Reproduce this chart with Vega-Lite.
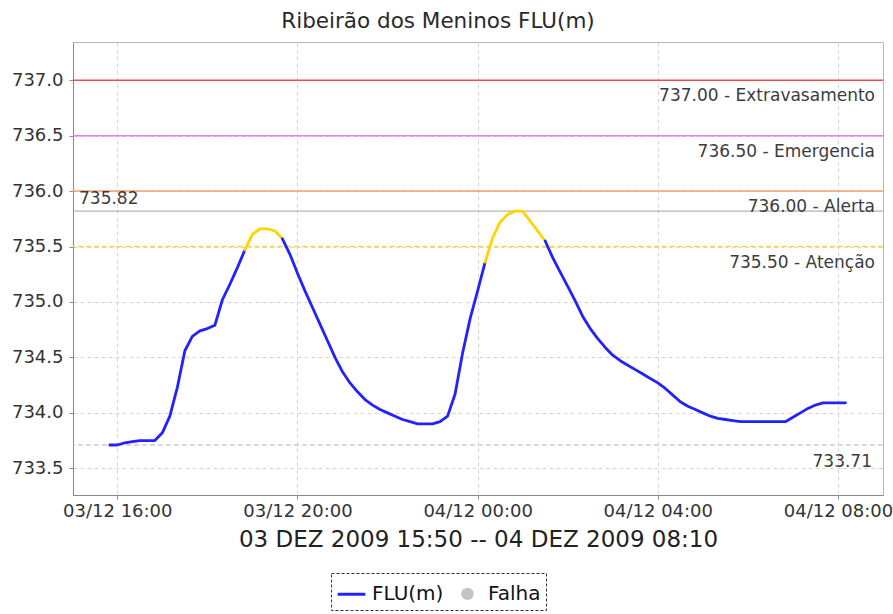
{
  "$schema": "https://vega.github.io/schema/vega-lite/v6.json",
  "autosize": {"type": "none"},
  "width": 810,
  "height": 453,
  "padding": {"left": 73, "top": 42, "right": 10, "bottom": 119},
  "background": "white",
  "title": {
    "text": "Ribeirão dos Meninos FLU(m)",
    "font": "DejaVu Sans",
    "fontSize": 21.5,
    "fontWeight": "normal",
    "color": "#2a2a2a",
    "anchor": "middle",
    "frame": "group",
    "dx": -40,
    "offset": 10
  },
  "datasets": {
    "serie": [
      {"hora": "2009-12-03T15:50:00", "flu": 733.71, "trecho": 1, "estado": "FLU(m)"},
      {"hora": "2009-12-03T16:00:00", "flu": 733.71, "trecho": 1, "estado": "FLU(m)"},
      {"hora": "2009-12-03T16:10:00", "flu": 733.73, "trecho": 1, "estado": "FLU(m)"},
      {"hora": "2009-12-03T16:20:00", "flu": 733.74, "trecho": 1, "estado": "FLU(m)"},
      {"hora": "2009-12-03T16:30:00", "flu": 733.75, "trecho": 1, "estado": "FLU(m)"},
      {"hora": "2009-12-03T16:40:00", "flu": 733.75, "trecho": 1, "estado": "FLU(m)"},
      {"hora": "2009-12-03T16:50:00", "flu": 733.75, "trecho": 1, "estado": "FLU(m)"},
      {"hora": "2009-12-03T17:00:00", "flu": 733.82, "trecho": 1, "estado": "FLU(m)"},
      {"hora": "2009-12-03T17:10:00", "flu": 733.97, "trecho": 1, "estado": "FLU(m)"},
      {"hora": "2009-12-03T17:20:00", "flu": 734.23, "trecho": 1, "estado": "FLU(m)"},
      {"hora": "2009-12-03T17:30:00", "flu": 734.56, "trecho": 1, "estado": "FLU(m)"},
      {"hora": "2009-12-03T17:40:00", "flu": 734.69, "trecho": 1, "estado": "FLU(m)"},
      {"hora": "2009-12-03T17:50:00", "flu": 734.74, "trecho": 1, "estado": "FLU(m)"},
      {"hora": "2009-12-03T18:00:00", "flu": 734.76, "trecho": 1, "estado": "FLU(m)"},
      {"hora": "2009-12-03T18:10:00", "flu": 734.79, "trecho": 1, "estado": "FLU(m)"},
      {"hora": "2009-12-03T18:20:00", "flu": 735.02, "trecho": 1, "estado": "FLU(m)"},
      {"hora": "2009-12-03T18:30:00", "flu": 735.16, "trecho": 1, "estado": "FLU(m)"},
      {"hora": "2009-12-03T18:40:00", "flu": 735.31, "trecho": 1, "estado": "FLU(m)"},
      {"hora": "2009-12-03T18:50:00", "flu": 735.47, "trecho": 1, "estado": "FLU(m)"},
      {"hora": "2009-12-03T18:50:00", "flu": 735.47, "trecho": 2, "estado": "Atenção"},
      {"hora": "2009-12-03T19:00:00", "flu": 735.61, "trecho": 2, "estado": "Atenção"},
      {"hora": "2009-12-03T19:10:00", "flu": 735.66, "trecho": 2, "estado": "Atenção"},
      {"hora": "2009-12-03T19:20:00", "flu": 735.66, "trecho": 2, "estado": "Atenção"},
      {"hora": "2009-12-03T19:30:00", "flu": 735.64, "trecho": 2, "estado": "Atenção"},
      {"hora": "2009-12-03T19:40:00", "flu": 735.57, "trecho": 2, "estado": "Atenção"},
      {"hora": "2009-12-03T19:40:00", "flu": 735.57, "trecho": 3, "estado": "FLU(m)"},
      {"hora": "2009-12-03T19:50:00", "flu": 735.43, "trecho": 3, "estado": "FLU(m)"},
      {"hora": "2009-12-03T20:00:00", "flu": 735.26, "trecho": 3, "estado": "FLU(m)"},
      {"hora": "2009-12-03T20:10:00", "flu": 735.10, "trecho": 3, "estado": "FLU(m)"},
      {"hora": "2009-12-03T20:20:00", "flu": 734.95, "trecho": 3, "estado": "FLU(m)"},
      {"hora": "2009-12-03T20:30:00", "flu": 734.80, "trecho": 3, "estado": "FLU(m)"},
      {"hora": "2009-12-03T20:40:00", "flu": 734.65, "trecho": 3, "estado": "FLU(m)"},
      {"hora": "2009-12-03T20:50:00", "flu": 734.50, "trecho": 3, "estado": "FLU(m)"},
      {"hora": "2009-12-03T21:00:00", "flu": 734.37, "trecho": 3, "estado": "FLU(m)"},
      {"hora": "2009-12-03T21:10:00", "flu": 734.27, "trecho": 3, "estado": "FLU(m)"},
      {"hora": "2009-12-03T21:20:00", "flu": 734.19, "trecho": 3, "estado": "FLU(m)"},
      {"hora": "2009-12-03T21:30:00", "flu": 734.12, "trecho": 3, "estado": "FLU(m)"},
      {"hora": "2009-12-03T21:40:00", "flu": 734.07, "trecho": 3, "estado": "FLU(m)"},
      {"hora": "2009-12-03T21:50:00", "flu": 734.03, "trecho": 3, "estado": "FLU(m)"},
      {"hora": "2009-12-03T22:00:00", "flu": 734.00, "trecho": 3, "estado": "FLU(m)"},
      {"hora": "2009-12-03T22:10:00", "flu": 733.97, "trecho": 3, "estado": "FLU(m)"},
      {"hora": "2009-12-03T22:20:00", "flu": 733.94, "trecho": 3, "estado": "FLU(m)"},
      {"hora": "2009-12-03T22:30:00", "flu": 733.92, "trecho": 3, "estado": "FLU(m)"},
      {"hora": "2009-12-03T22:40:00", "flu": 733.90, "trecho": 3, "estado": "FLU(m)"},
      {"hora": "2009-12-03T22:50:00", "flu": 733.90, "trecho": 3, "estado": "FLU(m)"},
      {"hora": "2009-12-03T23:00:00", "flu": 733.90, "trecho": 3, "estado": "FLU(m)"},
      {"hora": "2009-12-03T23:10:00", "flu": 733.92, "trecho": 3, "estado": "FLU(m)"},
      {"hora": "2009-12-03T23:20:00", "flu": 733.97, "trecho": 3, "estado": "FLU(m)"},
      {"hora": "2009-12-03T23:30:00", "flu": 734.17, "trecho": 3, "estado": "FLU(m)"},
      {"hora": "2009-12-03T23:40:00", "flu": 734.54, "trecho": 3, "estado": "FLU(m)"},
      {"hora": "2009-12-03T23:50:00", "flu": 734.85, "trecho": 3, "estado": "FLU(m)"},
      {"hora": "2009-12-04T00:00:00", "flu": 735.10, "trecho": 3, "estado": "FLU(m)"},
      {"hora": "2009-12-04T00:10:00", "flu": 735.36, "trecho": 3, "estado": "FLU(m)"},
      {"hora": "2009-12-04T00:10:00", "flu": 735.36, "trecho": 4, "estado": "Atenção"},
      {"hora": "2009-12-04T00:20:00", "flu": 735.58, "trecho": 4, "estado": "Atenção"},
      {"hora": "2009-12-04T00:30:00", "flu": 735.72, "trecho": 4, "estado": "Atenção"},
      {"hora": "2009-12-04T00:40:00", "flu": 735.79, "trecho": 4, "estado": "Atenção"},
      {"hora": "2009-12-04T00:50:00", "flu": 735.82, "trecho": 4, "estado": "Atenção"},
      {"hora": "2009-12-04T01:00:00", "flu": 735.82, "trecho": 4, "estado": "Atenção"},
      {"hora": "2009-12-04T01:10:00", "flu": 735.73, "trecho": 4, "estado": "Atenção"},
      {"hora": "2009-12-04T01:20:00", "flu": 735.64, "trecho": 4, "estado": "Atenção"},
      {"hora": "2009-12-04T01:30:00", "flu": 735.55, "trecho": 4, "estado": "Atenção"},
      {"hora": "2009-12-04T01:30:00", "flu": 735.55, "trecho": 5, "estado": "FLU(m)"},
      {"hora": "2009-12-04T01:40:00", "flu": 735.40, "trecho": 5, "estado": "FLU(m)"},
      {"hora": "2009-12-04T01:50:00", "flu": 735.27, "trecho": 5, "estado": "FLU(m)"},
      {"hora": "2009-12-04T02:00:00", "flu": 735.14, "trecho": 5, "estado": "FLU(m)"},
      {"hora": "2009-12-04T02:10:00", "flu": 735.01, "trecho": 5, "estado": "FLU(m)"},
      {"hora": "2009-12-04T02:20:00", "flu": 734.87, "trecho": 5, "estado": "FLU(m)"},
      {"hora": "2009-12-04T02:30:00", "flu": 734.76, "trecho": 5, "estado": "FLU(m)"},
      {"hora": "2009-12-04T02:40:00", "flu": 734.67, "trecho": 5, "estado": "FLU(m)"},
      {"hora": "2009-12-04T02:50:00", "flu": 734.59, "trecho": 5, "estado": "FLU(m)"},
      {"hora": "2009-12-04T03:00:00", "flu": 734.52, "trecho": 5, "estado": "FLU(m)"},
      {"hora": "2009-12-04T03:10:00", "flu": 734.47, "trecho": 5, "estado": "FLU(m)"},
      {"hora": "2009-12-04T03:20:00", "flu": 734.43, "trecho": 5, "estado": "FLU(m)"},
      {"hora": "2009-12-04T03:30:00", "flu": 734.39, "trecho": 5, "estado": "FLU(m)"},
      {"hora": "2009-12-04T03:40:00", "flu": 734.35, "trecho": 5, "estado": "FLU(m)"},
      {"hora": "2009-12-04T03:50:00", "flu": 734.31, "trecho": 5, "estado": "FLU(m)"},
      {"hora": "2009-12-04T04:00:00", "flu": 734.27, "trecho": 5, "estado": "FLU(m)"},
      {"hora": "2009-12-04T04:10:00", "flu": 734.22, "trecho": 5, "estado": "FLU(m)"},
      {"hora": "2009-12-04T04:20:00", "flu": 734.16, "trecho": 5, "estado": "FLU(m)"},
      {"hora": "2009-12-04T04:30:00", "flu": 734.10, "trecho": 5, "estado": "FLU(m)"},
      {"hora": "2009-12-04T04:40:00", "flu": 734.06, "trecho": 5, "estado": "FLU(m)"},
      {"hora": "2009-12-04T04:50:00", "flu": 734.03, "trecho": 5, "estado": "FLU(m)"},
      {"hora": "2009-12-04T05:00:00", "flu": 734.00, "trecho": 5, "estado": "FLU(m)"},
      {"hora": "2009-12-04T05:10:00", "flu": 733.97, "trecho": 5, "estado": "FLU(m)"},
      {"hora": "2009-12-04T05:20:00", "flu": 733.95, "trecho": 5, "estado": "FLU(m)"},
      {"hora": "2009-12-04T05:30:00", "flu": 733.94, "trecho": 5, "estado": "FLU(m)"},
      {"hora": "2009-12-04T05:40:00", "flu": 733.93, "trecho": 5, "estado": "FLU(m)"},
      {"hora": "2009-12-04T05:50:00", "flu": 733.92, "trecho": 5, "estado": "FLU(m)"},
      {"hora": "2009-12-04T06:00:00", "flu": 733.92, "trecho": 5, "estado": "FLU(m)"},
      {"hora": "2009-12-04T06:10:00", "flu": 733.92, "trecho": 5, "estado": "FLU(m)"},
      {"hora": "2009-12-04T06:20:00", "flu": 733.92, "trecho": 5, "estado": "FLU(m)"},
      {"hora": "2009-12-04T06:30:00", "flu": 733.92, "trecho": 5, "estado": "FLU(m)"},
      {"hora": "2009-12-04T06:40:00", "flu": 733.92, "trecho": 5, "estado": "FLU(m)"},
      {"hora": "2009-12-04T06:50:00", "flu": 733.92, "trecho": 5, "estado": "FLU(m)"},
      {"hora": "2009-12-04T07:00:00", "flu": 733.96, "trecho": 5, "estado": "FLU(m)"},
      {"hora": "2009-12-04T07:10:00", "flu": 734.00, "trecho": 5, "estado": "FLU(m)"},
      {"hora": "2009-12-04T07:20:00", "flu": 734.04, "trecho": 5, "estado": "FLU(m)"},
      {"hora": "2009-12-04T07:30:00", "flu": 734.07, "trecho": 5, "estado": "FLU(m)"},
      {"hora": "2009-12-04T07:40:00", "flu": 734.09, "trecho": 5, "estado": "FLU(m)"},
      {"hora": "2009-12-04T07:50:00", "flu": 734.09, "trecho": 5, "estado": "FLU(m)"},
      {"hora": "2009-12-04T08:00:00", "flu": 734.09, "trecho": 5, "estado": "FLU(m)"},
      {"hora": "2009-12-04T08:10:00", "flu": 734.09, "trecho": 5, "estado": "FLU(m)"}
    ],
    "limites": [
      {"nivel": "Extravasamento", "valor": 737.0, "rotulo": "737.00 - Extravasamento"},
      {"nivel": "Emergencia", "valor": 736.5, "rotulo": "736.50 - Emergencia"},
      {"nivel": "Alerta", "valor": 736.0, "rotulo": "736.00 - Alerta"},
      {"nivel": "Atenção", "valor": 735.5, "rotulo": "735.50 - Atenção"}
    ],
    "extremos": [
      {"tipo": "max", "valor": 735.82, "rotulo": "735.82"},
      {"tipo": "min", "valor": 733.71, "rotulo": "733.71"}
    ]
  },
  "encoding": {
    "y": {
      "type": "quantitative",
      "scale": {"domain": [733.259, 737.345], "nice": false, "zero": false},
      "axis": {
        "title": null,
        "grid": true,
        "values": [733.5, 734.0, 734.5, 735.0, 735.5, 736.0, 736.5, 737.0],
        "format": ".1f",
        "labelPadding": 6
      }
    }
  },
  "layer": [
    {
      "data": {"name": "extremos"},
      "mark": {"type": "rule", "strokeWidth": 1},
      "encoding": {
        "y": {"field": "valor", "type": "quantitative"},
        "color": {
          "condition": {"test": "datum.tipo === 'max'", "value": "#a0a0a0"},
          "value": "#b4b4b4"
        },
        "strokeDash": {
          "condition": {"test": "datum.tipo === 'max'", "value": [1, 0]},
          "value": [5, 3]
        }
      }
    },
    {
      "data": {"name": "limites"},
      "mark": {"type": "rule", "strokeWidth": 1.5},
      "encoding": {
        "y": {"field": "valor", "type": "quantitative"},
        "color": {
          "condition": [
            {"test": "datum.nivel === 'Extravasamento'", "value": "#f24a4a"},
            {"test": "datum.nivel === 'Emergencia'", "value": "#f07af2"},
            {"test": "datum.nivel === 'Alerta'", "value": "#f0a070"}
          ],
          "value": "#f2d850"
        },
        "strokeDash": {
          "condition": {"test": "datum.nivel === 'Atenção'", "value": [5, 3]},
          "value": [1, 0]
        }
      }
    },
    {
      "data": {"name": "limites"},
      "mark": {"type": "text", "align": "right", "baseline": "alphabetic", "dx": -8, "dy": 21, "font": "DejaVu Sans", "fontSize": 17, "color": "#3c3c3c"},
      "encoding": {
        "x": {"datum": {"year": 2009, "month": 12, "date": 4, "hours": 9, "minutes": 0}, "type": "temporal"},
        "y": {"field": "valor", "type": "quantitative"},
        "text": {"field": "rotulo"}
      }
    },
    {
      "data": {"name": "extremos"},
      "transform": [{"filter": "datum.tipo === 'max'"}],
      "mark": {"type": "text", "align": "left", "baseline": "alphabetic", "dx": 6, "dy": -7, "font": "DejaVu Sans", "fontSize": 17, "color": "#3c3c3c"},
      "encoding": {
        "x": {"datum": {"year": 2009, "month": 12, "date": 3, "hours": 15, "minutes": 1}, "type": "temporal"},
        "y": {"field": "valor", "type": "quantitative"},
        "text": {"field": "rotulo"}
      }
    },
    {
      "data": {"name": "extremos"},
      "transform": [{"filter": "datum.tipo === 'min'"}],
      "mark": {"type": "text", "align": "right", "baseline": "alphabetic", "dx": -11, "dy": 22, "font": "DejaVu Sans", "fontSize": 17, "color": "#3c3c3c"},
      "encoding": {
        "x": {"datum": {"year": 2009, "month": 12, "date": 4, "hours": 9, "minutes": 0}, "type": "temporal"},
        "y": {"field": "valor", "type": "quantitative"},
        "text": {"field": "rotulo"}
      }
    },
    {
      "data": {"name": "serie"},
      "mark": {"type": "line", "strokeWidth": 2.8, "strokeCap": "round", "strokeJoin": "round"},
      "encoding": {
        "x": {
          "field": "hora",
          "type": "temporal",
          "scale": {"domain": [
            {"year": 2009, "month": 12, "date": 3, "hours": 15, "minutes": 1},
            {"year": 2009, "month": 12, "date": 4, "hours": 9, "minutes": 0}
          ], "nice": false},
          "axis": {
            "title": "03 DEZ 2009 15:50 -- 04 DEZ 2009 08:10",
            "grid": true,
            "format": "%d/%m %H:%M",
            "values": [
              {"year": 2009, "month": 12, "date": 3, "hours": 16},
              {"year": 2009, "month": 12, "date": 3, "hours": 20},
              {"year": 2009, "month": 12, "date": 4, "hours": 0},
              {"year": 2009, "month": 12, "date": 4, "hours": 4},
              {"year": 2009, "month": 12, "date": 4, "hours": 8}
            ],
            "labelPadding": 3,
            "labelFlush": false,
            "labelOverlap": false,
            "titleFontSize": 23,
            "titleFont": "DejaVu Sans",
            "titleFontWeight": "normal",
            "titleColor": "#222",
            "titlePadding": 8
          }
        },
        "y": {"field": "flu", "type": "quantitative"},
        "detail": {"field": "trecho", "type": "nominal"},
        "color": {
          "field": "estado",
          "type": "nominal",
          "scale": {"domain": ["FLU(m)", "Falha", "Atenção"], "range": ["#2222ff", "#c4c4c4", "#ffd500"]},
          "legend": {
            "title": null,
            "values": ["FLU(m)", "Falha"],
            "orient": "none",
            "legendX": 258,
            "legendY": 531,
            "direction": "horizontal",
            "labelFont": "DejaVu Sans",
            "labelFontSize": 20,
            "labelColor": "#111",
            "labelOffset": 5,
            "columnPadding": 8,
            "padding": 5,
            "strokeColor": "#333",
            "symbolType": "stroke",
            "symbolSize": 760,
            "symbolStrokeWidth": 3,
            "encode": {
              "legend": {"update": {"strokeDash": {"value": [3, 2]}}},
              "symbols": {
                "update": {
                  "shape": {"signal": "datum.value === 'Falha' ? 'circle' : 'stroke'"},
                  "size": {"signal": "datum.value === 'Falha' ? 90 : 760"},
                  "fill": {"signal": "datum.value === 'Falha' ? '#c4c4c4' : 'transparent'"},
                  "stroke": {"signal": "datum.value === 'Falha' ? 'transparent' : '#2222ff'"},
                  "strokeWidth": {"value": 3}
                }
              }
            }
          }
        }
      }
    }
  ],
  "config": {
    "view": {"stroke": "#b8b8b8", "strokeWidth": 1},
    "axis": {
      "labelFont": "DejaVu Sans",
      "labelFontSize": 18,
      "labelColor": "#333",
      "gridColor": "#d6d6d6",
      "gridDash": [4, 3],
      "gridWidth": 1,
      "domainColor": "#888",
      "tickColor": "#888",
      "tickSize": 4
    }
  }
}
